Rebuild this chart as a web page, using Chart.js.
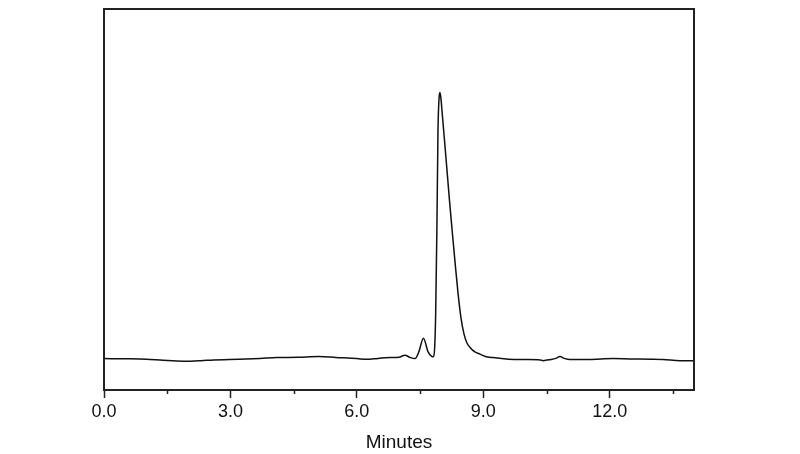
<!DOCTYPE html>
<html>
<head>
<meta charset="utf-8">
<script src="https://cdn.jsdelivr.net/npm/chart.js@4/dist/chart.umd.min.js"></script>
<style>
  html, body { margin: 0; padding: 0; background: #fff; }
  #wrap { width: 800px; height: 454px; }
</style>
</head>
<body>
<div id="wrap"><canvas id="c" width="800" height="454"></canvas></div>
<script>
const times = [0, 0.5, 1.0, 1.4, 1.88, 2.3, 2.6, 3.2, 3.7, 4.1, 4.6, 5.1, 5.5, 6.0, 6.24, 6.5, 6.8, 7.0, 7.14, 7.27, 7.38, 7.47, 7.58, 7.69, 7.77, 7.81, 7.85, 7.87, 7.9, 7.925, 7.95, 7.97, 7.99, 8.03, 8.08, 8.14, 8.2, 8.26, 8.33, 8.4, 8.47, 8.54, 8.61, 8.69, 8.8, 8.92, 9.05, 9.23, 9.6, 10.0, 10.35, 10.42, 10.6, 10.72, 10.82, 10.92, 11.06, 11.5, 12.08, 12.48, 13.0, 13.27, 13.67, 14.0];
const signal = [8.24, 8.2, 8.1, 7.8, 7.55, 7.7, 7.9, 8.1, 8.3, 8.5, 8.6, 8.8, 8.55, 8.25, 8.05, 8.3, 8.5, 8.6, 9.13, 8.5, 8.24, 10.0, 13.6, 10.0, 8.9, 8.7, 12.0, 20, 43, 68, 76.5, 78.1, 77.0, 72.0, 65.5, 57.5, 49.5, 42.0, 33.5, 25.5, 19.0, 14.8, 12.4, 11.1, 10.0, 9.4, 8.8, 8.5, 8.1, 8.0, 7.9, 7.7, 8.0, 8.3, 8.76, 8.3, 8.0, 8.0, 8.24, 8.16, 8.08, 8.0, 7.7, 7.7];
const majorTicks = [0, 3, 6, 9, 12];
const minorTicks = [1.5, 4.5, 7.5, 10.5, 13.5];
const xTitle = 'Minutes';

const points = times.map((t, i) => ({ x: t, y: signal[i] }));

const framePlugin = {
  id: 'frame',
  afterDraw(chart) {
    const { ctx, chartArea: a, scales } = chart;
    ctx.save();
    ctx.strokeStyle = '#222';
    ctx.lineWidth = 2;
    ctx.strokeRect(a.left, a.top, a.right - a.left, a.bottom - a.top);
    ctx.lineWidth = 1.5;
    ctx.beginPath();
    minorTicks.forEach(v => {
      const px = Math.round(scales.x.getPixelForValue(v)) + 0.5;
      ctx.moveTo(px, a.bottom);
      ctx.lineTo(px, a.bottom + 4);
    });
    ctx.stroke();
    ctx.restore();
  }
};

new Chart(document.getElementById('c'), {
  type: 'line',
  data: {
    datasets: [{
      data: points,
      borderColor: '#111',
      borderWidth: 1.5,
      pointRadius: 0,
      fill: false,
      cubicInterpolationMode: 'monotone'
    }]
  },
  options: {
    responsive: false,
    animation: false,
    devicePixelRatio: 1,
    layout: { padding: { left: 104, right: 106, top: 9, bottom: 0 } },
    plugins: { legend: { display: false }, tooltip: { enabled: false } },
    scales: {
      x: {
        type: 'linear',
        min: 0,
        max: 14,
        afterBuildTicks: s => { s.ticks = majorTicks.map(v => ({ value: v })); },
        border: { display: false },
        grid: { display: true, drawOnChartArea: false, drawTicks: true, tickLength: 8, tickColor: '#222', tickWidth: 1.5 },
        ticks: {
          color: '#111',
          padding: 3,
          maxRotation: 0,
          autoSkip: false,
          font: { family: 'Liberation Sans, Arial, sans-serif', size: 18 },
          callback: v => Number(v).toFixed(1)
        },
        title: {
          display: true,
          text: xTitle,
          color: '#111',
          padding: { top: 5.6, bottom: 0 },
          font: { family: 'Liberation Sans, Arial, sans-serif', size: 19 }
        }
      },
      y: {
        display: false,
        min: 0,
        max: 100
      }
    }
  },
  plugins: [framePlugin]
});
</script>
</body>
</html>
